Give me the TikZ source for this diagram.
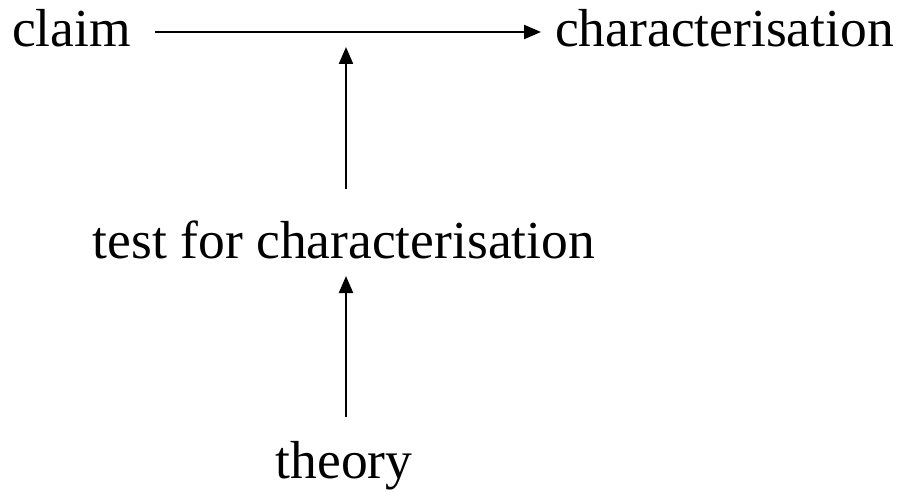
\documentclass[tikz,border=0pt]{standalone}
\usepackage{fontspec}
\setmainfont{Liberation Serif}
\usetikzlibrary{arrows.meta}
\begin{document}
\begin{tikzpicture}[x=1pt,y=-1pt,
  lbl/.style={inner sep=0pt,anchor=base,font=\fontsize{53.5}{60}\selectfont},
  arr/.style={line width=2.2pt,-{Triangle[length=17pt,width=14pt]}}]
\useasboundingbox (0,0) rectangle (900,492);
\node[lbl,anchor=base west] (claim) at (12,47) {claim};
\node[lbl,anchor=base west] (char) at (555,47) {characterisation};
\node[lbl] (test) at (344,258) {test for characterisation};
\node[lbl] (theory) at (344,478) {theory};
\coordinate (hs) at (155,32);
\coordinate (he) at (541,32);
\coordinate (m) at (346,47);
\coordinate (m2) at (346,276);
\draw[arr] (claim.base east -| hs) ++(0,-15) -- (he);
\draw[arr,shorten <=31pt] (test.north -| m) -- (m);
\draw[arr,shorten <=24pt] (theory.north -| m2) -- (m2);
\end{tikzpicture}
\end{document}
